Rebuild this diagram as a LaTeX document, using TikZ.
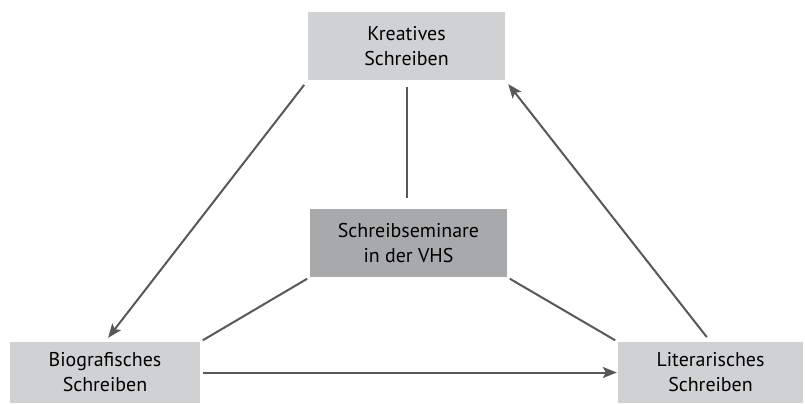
\documentclass[tikz,border=0pt]{standalone}
\usepackage{fontspec}
\setmainfont{PT Sans}
\usetikzlibrary{arrows.meta}

\definecolor{boxlight}{HTML}{D0D1D3}
\definecolor{boxdark}{HTML}{A8A9AB}
\definecolor{linegray}{HTML}{58585A}

\tikzset{
  feld/.style={fill=boxlight, inner sep=0pt, align=center,
    font=\fontsize{20}{25}\selectfont, text=black},
  mitte/.style={feld, fill=boxdark},
  verbindung/.style={linegray, line width=2bp},
  pfeil/.style={verbindung, -{Stealth[length=14bp,width=11bp,inset=3bp]}}
}

\begin{document}
\begin{tikzpicture}[x=1bp,y=-1bp]
  \useasboundingbox (0,0) rectangle (805,403);

  \node[feld, minimum width=197bp, minimum height=68bp] (kreativ) at (406.5,46) {Kreatives\\Schreiben};
  \node[mitte, minimum width=197bp, minimum height=68bp] (vhs) at (408.5,243) {Schreibseminare\\in der VHS};
  \node[feld, minimum width=190bp, minimum height=61bp] (bio) at (105,372.5) {Biografisches\\Schreiben};
  \node[feld, minimum width=185bp, minimum height=61bp] (lit) at (710.5,372.5) {Literarisches\\Schreiben};

  % Kreislauf
  \draw[pfeil, shorten <=6bp, shorten >=5bp] (kreativ.south west) -- (bio.north);
  \draw[pfeil, shorten <=3bp, shorten >=1bp] (bio.east) -- (lit.west);
  \draw[pfeil, shorten <=6bp, shorten >=5bp] (lit.north) -- (kreativ.south east);

  % Verbindungen zur Mitte
  \draw[verbindung, shorten <=7bp, shorten >=11bp] (kreativ.south) -- (kreativ.south |- vhs.north);
  \draw[verbindung, shorten <=3bp, shorten >=3bp] (vhs.south west) -- (bio.north east);
  \draw[verbindung, shorten <=3bp, shorten >=3bp] (vhs.south east) -- (lit.north west);
\end{tikzpicture}
\end{document}
